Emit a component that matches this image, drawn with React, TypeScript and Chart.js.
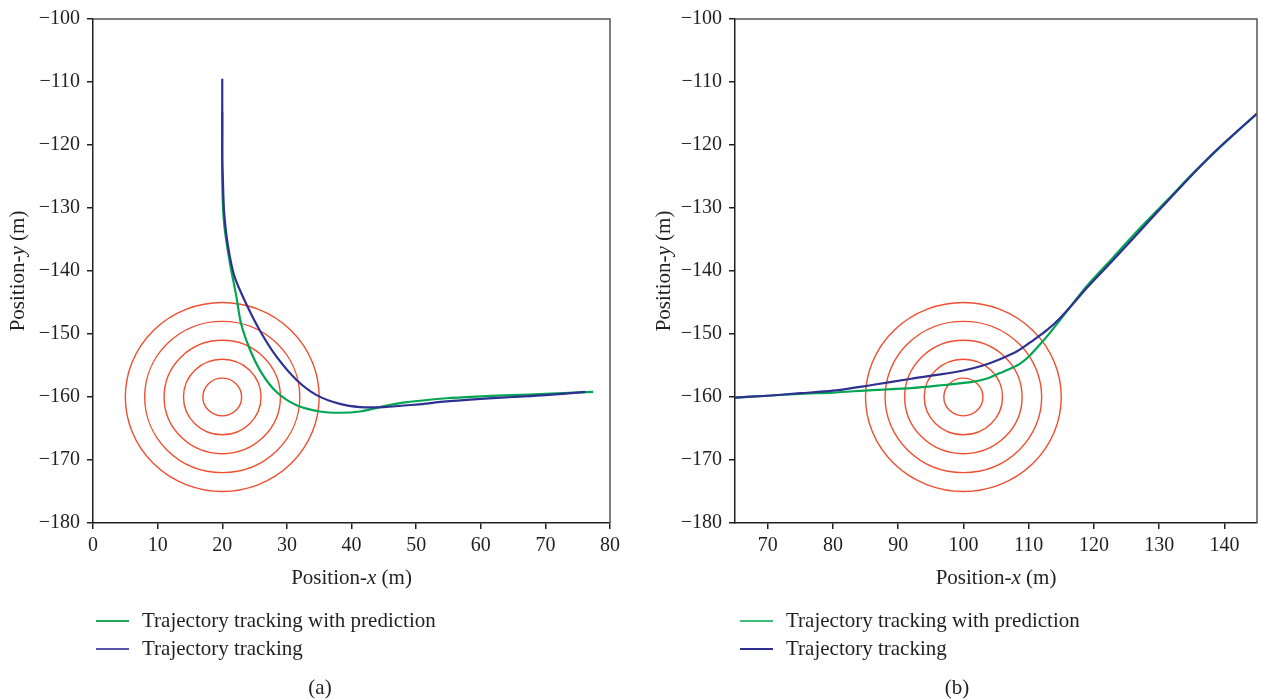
import React, { useEffect, useRef } from 'react';
import { Chart, registerables } from 'chart.js';
Chart.register(...registerables);

// ---------- data ----------
const yTicks = [-100, -110, -120, -130, -140, -150, -160, -170, -180];
const xTicksA = [0, 10, 20, 30, 40, 50, 60, 70, 80];
const xTicksB = [70, 80, 90, 100, 110, 120, 130, 140];

const circleRadii = [3, 6, 9, 12, 15];
const obstacleA = [20, -160];
const obstacleB = [100, -160];

const seriesLabels = ['Trajectory tracking with prediction', 'Trajectory tracking'];
const captions = ['(a)', '(b)'];

// panel (a)
const predAX = [20, 20, 20, 20.1, 20.4, 21.2, 22.2, 22.9, 24.3, 26.1, 28.4, 31.5, 35.1, 38.2, 41.3, 44.4, 48, 54.7, 60, 65, 70, 77.4];
const predAY = [-114.7, -120, -125, -129.5, -133.5, -138.8, -144.1, -148.3, -152.5, -156.2, -159.2, -161.3, -162.3, -162.5, -162.3, -161.6, -160.9, -160.2, -159.9, -159.7, -159.5, -159.2];
const trackAX = [20, 20, 20, 20, 20.1, 20.3, 20.9, 21.9, 23.8, 25.9, 28.4, 31.5, 34.6, 38.2, 41.3, 45, 50, 54.7, 60, 65, 70, 76.2];
const trackAY = [-109.5, -113, -118, -122, -125.6, -130.8, -136.1, -140.9, -145.4, -149.6, -153.6, -157.3, -159.7, -161.1, -161.6, -161.6, -161.2, -160.7, -160.3, -160, -159.7, -159.2];

// panel (b)
const predBX = [65, 70, 75, 80, 86, 92, 97, 101.4, 103.5, 105.6, 107, 108.7, 110.2, 111.7, 113.2, 114.8, 116.9, 118.9, 123, 126.8, 131.3, 135, 139, 145];
const predBY = [-160.1, -159.8, -159.5, -159.3, -158.9, -158.6, -158.1, -157.6, -157.1, -156.2, -155.6, -154.7, -153.4, -151.7, -149.9, -147.8, -145, -142.4, -137.8, -133.5, -128.7, -124.7, -120.7, -115];
const trackBX = [65, 70, 75, 80, 86, 92, 96, 100, 103, 105.6, 108.3, 110.7, 112.8, 114.8, 116.9, 118.9, 123, 127.1, 131.3, 135, 139, 145];
const trackBY = [-160.1, -159.8, -159.4, -159, -158.1, -157.1, -156.5, -155.8, -155, -154, -152.7, -151, -149.4, -147.5, -145.1, -142.7, -138.2, -133.6, -128.9, -124.8, -120.6, -115];

// ---------- styles ----------
const GREEN = '#00A651';
const BLUE = '#2E3192';
const RED = '#F04E30';
const INK = '#231F20';
const FONT = '"Liberation Serif", "Times New Roman", serif';

const zip = (xs: number[], ys: number[]) => xs.map((x, i) => ({ x, y: ys[i] }));
const fmt = (v: number) => String(v).replace('-', '\u2212');

function drawRich(ctx: CanvasRenderingContext2D, parts: [string, boolean][], cx: number, cy: number, size: number) {
  const fonts = parts.map(([, it]) => `${it ? 'italic ' : ''}${size}px ${FONT}`);
  const widths = parts.map(([t], i) => { ctx.font = fonts[i]; return ctx.measureText(t).width; });
  const total = widths.reduce((a, b) => a + b, 0);
  let x = cx - total / 2;
  ctx.textBaseline = 'middle';
  ctx.textAlign = 'left';
  parts.forEach(([t], i) => { ctx.font = fonts[i]; ctx.fillText(t, x, cy); x += widths[i]; });
}

interface Panel {
  xMin: number; xMax: number; xTicks: number[];
  predX: number[]; predY: number[]; trackX: number[]; trackY: number[];
  center: number[]; yAxisWidth: number; padRight: number; yTitleX: number;
  legendX: number; caption: string; captionX: number; legendGreen: string; legendBlue: string;
}

function buildConfig(p: Panel): any {
  const circlesPlugin = {
    id: 'circles',
    beforeDatasetsDraw(chart: any) {
      const { ctx, scales: { x, y }, chartArea } = chart;
      const cx = x.getPixelForValue(p.center[0]);
      const cy = y.getPixelForValue(p.center[1]);
      ctx.save();
      ctx.beginPath();
      ctx.rect(chartArea.left, chartArea.top, chartArea.right - chartArea.left, chartArea.bottom - chartArea.top);
      ctx.clip();
      ctx.strokeStyle = RED;
      ctx.lineWidth = 1.4;
      circleRadii.forEach((r) => {
        const rx = Math.abs(x.getPixelForValue(p.center[0] + r) - cx);
        const ry = Math.abs(y.getPixelForValue(p.center[1] + r) - cy);
        ctx.beginPath();
        ctx.ellipse(cx, cy, rx, ry, 0, 0, Math.PI * 2);
        ctx.stroke();
      });
      ctx.restore();
    },
  };
  const decorPlugin = {
    id: 'decor',
    afterDraw(chart: any) {
      const { ctx, chartArea } = chart;
      ctx.save();
      ctx.strokeStyle = '#555';
      ctx.lineWidth = 1.5;
      ctx.beginPath();
      ctx.moveTo(chartArea.left, chartArea.top);
      ctx.lineTo(chartArea.right, chartArea.top);
      ctx.lineTo(chartArea.right, chartArea.bottom);
      ctx.stroke();
      ctx.fillStyle = INK;
      const midX = (chartArea.left + chartArea.right) / 2;
      const midY = (chartArea.top + chartArea.bottom) / 2;
      drawRich(ctx, [['Position-', false], ['x', true], [' (m)', false]], midX, 578, 21);
      ctx.save();
      ctx.translate(p.yTitleX, midY);
      ctx.rotate(-Math.PI / 2);
      drawRich(ctx, [['Position-', false], ['y', true], [' (m)', false]], 0, 0, 21);
      ctx.restore();
      const entries: [string, string, number][] = [
        [seriesLabels[0], p.legendGreen, 621],
        [seriesLabels[1], p.legendBlue, 649],
      ];
      entries.forEach(([label, color, yy]) => {
        ctx.strokeStyle = color;
        ctx.lineWidth = 2;
        ctx.beginPath();
        ctx.moveTo(p.legendX, yy);
        ctx.lineTo(p.legendX + 33, yy);
        ctx.stroke();
        ctx.fillStyle = INK;
        ctx.font = `21px ${FONT}`;
        ctx.textAlign = 'left';
        ctx.textBaseline = 'middle';
        ctx.fillText(label, p.legendX + 46, yy);
      });
      ctx.font = `21px ${FONT}`;
      ctx.textAlign = 'center';
      ctx.textBaseline = 'middle';
      ctx.fillText(p.caption, p.captionX, 688);
      ctx.restore();
    },
  };
  const axisCommon = {
    type: 'linear',
    grid: { display: true, drawOnChartArea: false, drawTicks: true, tickLength: 6, color: INK, lineWidth: 1.5 },
    border: { display: true, color: INK, width: 1.5 },
  };
  return {
    type: 'scatter',
    data: {
      datasets: [
        { label: seriesLabels[1], data: zip(p.trackX, p.trackY), showLine: true, borderColor: BLUE, borderWidth: 2.2, pointRadius: 0, tension: 0.3, order: 1 },
        { label: seriesLabels[0], data: zip(p.predX, p.predY), showLine: true, borderColor: GREEN, borderWidth: 2.2, pointRadius: 0, tension: 0.3, order: 2 },
      ],
    },
    options: {
      animation: false,
      responsive: false,
      events: [],
      layout: { padding: { left: 0, right: p.padRight, top: 19, bottom: 0 } },
      plugins: { legend: { display: false }, tooltip: { enabled: false } },
      scales: {
        x: {
          ...axisCommon,
          min: p.xMin, max: p.xMax,
          afterBuildTicks: (s: any) => { s.ticks = p.xTicks.map((v) => ({ value: v })); },
          afterFit: (s: any) => { s.height = 176; },
          ticks: { font: { family: FONT, size: 20 }, color: INK, padding: 5, maxRotation: 0, callback: (v: any) => fmt(v) },
        },
        y: {
          ...axisCommon,
          min: -180, max: -100,
          afterBuildTicks: (s: any) => { s.ticks = yTicks.map((v) => ({ value: v })); },
          afterFit: (s: any) => { s.width = p.yAxisWidth; },
          ticks: { font: { family: FONT, size: 20 }, color: INK, padding: 7, callback: (v: any) => fmt(v) },
        },
      },
    },
    plugins: [circlesPlugin, decorPlugin],
  };
}

const panelA: Panel = {
  xMin: 0, xMax: 80, xTicks: xTicksA,
  predX: predAX, predY: predAY, trackX: trackAX, trackY: trackAY,
  center: obstacleA, yAxisWidth: 93, padRight: 30, yTitleX: 18,
  legendX: 96, caption: captions[0], captionX: 320, legendGreen: '#1FA85A', legendBlue: '#5654A8',
};
const panelB: Panel = {
  xMin: 65, xMax: 145, xTicks: xTicksB,
  predX: predBX, predY: predBY, trackX: trackBX, trackY: trackBY,
  center: obstacleB, yAxisWidth: 95, padRight: 4, yTitleX: 24,
  legendX: 100, caption: captions[1], captionX: 317, legendGreen: '#3DBE7A', legendBlue: '#2E3192',
};

export default function App() {
  const refA = useRef<HTMLCanvasElement>(null);
  const refB = useRef<HTMLCanvasElement>(null);
  useEffect(() => {
    const a = new Chart(refA.current as HTMLCanvasElement, buildConfig(panelA));
    const b = new Chart(refB.current as HTMLCanvasElement, buildConfig(panelB));
    return () => { a.destroy(); b.destroy(); };
  }, []);
  return (
    <div style={{ position: 'fixed', left: 0, top: 0, width: 1261, height: 699, background: '#fff' }}>
      <canvas ref={refA} width={640} height={699} style={{ position: 'absolute', left: 0, top: 0, width: 640, height: 699 }} />
      <canvas ref={refB} width={621} height={699} style={{ position: 'absolute', left: 640, top: 0, width: 621, height: 699 }} />
    </div>
  );
}
